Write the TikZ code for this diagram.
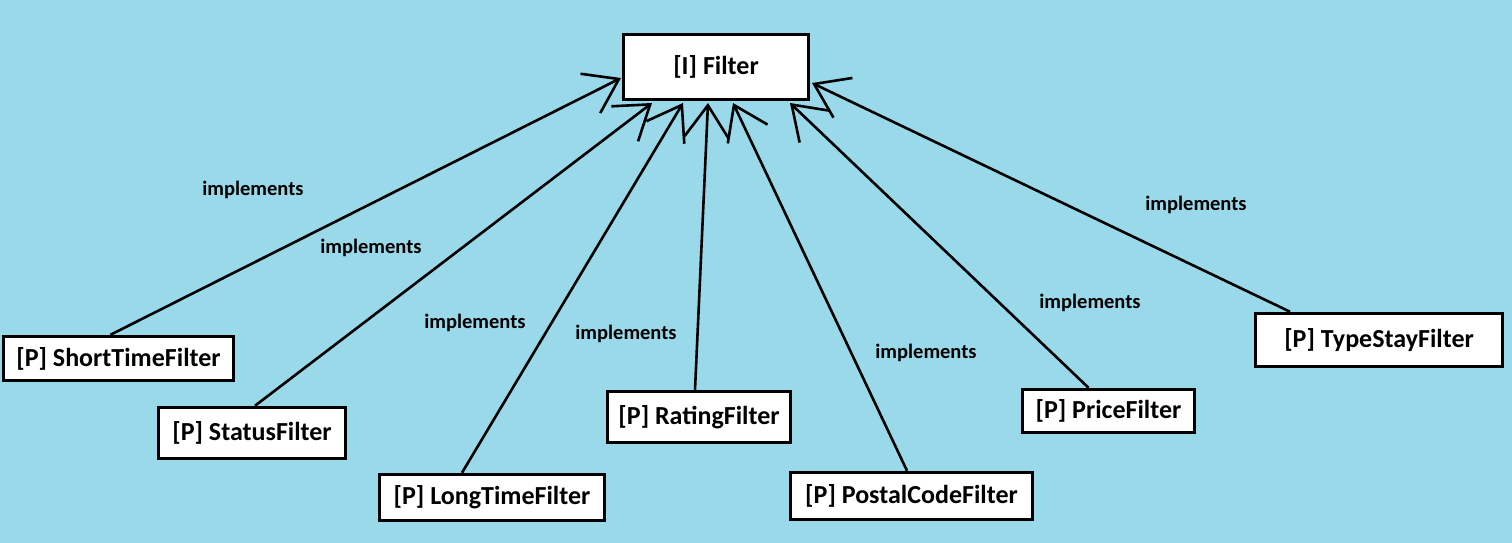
\documentclass[tikz,border=0pt]{standalone}
\usepackage{fontspec}
\setmainfont{Carlito}
\usetikzlibrary{arrows.meta}
\definecolor{bg}{RGB}{153,217,234}
\begin{document}
\begin{tikzpicture}[x=1pt,y=-1pt,
  box/.style={draw=black, fill=white, line width=3.5pt, inner sep=0pt,
    font=\bfseries\fontsize{26}{30}\selectfont},
  impl/.style={font=\bfseries\fontsize{20.5}{24}\selectfont, inner sep=0pt},
  link/.style={line width=2.6pt, -{Straight Barb[length=32pt,width=44pt]}}]
\fill[bg] (0,0) rectangle (1512,543);
\useasboundingbox (0,0) rectangle (1512,543);
% boxes
\node[box, minimum width=185pt, minimum height=65pt] (filter) at (716,67) {[I] Filter};
\node[box, minimum width=230pt, minimum height=44pt] (short) at (118.5,358.5) {[P] ShortTimeFilter};
\node[box, minimum width=187pt, minimum height=51pt] (status) at (252,433) {[P] StatusFilter};
\node[box, minimum width=225pt, minimum height=46pt] (long) at (492,497.5) {[P] LongTimeFilter};
\node[box, minimum width=183pt, minimum height=51pt] (rating) at (699,417) {[P] RatingFilter};
\node[box, minimum width=242pt, minimum height=47pt] (postal) at (911.5,496) {[P] PostalCodeFilter};
\node[box, minimum width=172pt, minimum height=43pt] (price) at (1108.5,411) {[P] PriceFilter};
\node[box, minimum width=247pt, minimum height=53pt] (type) at (1379,340) {[P] TypeStayFilter};
% arrow tips on the Filter box
\coordinate (t1) at (621,78);
\coordinate (t2) at (652,103);
\coordinate (t3) at (683,103);
\coordinate (t4) at (708,103);
\coordinate (t5) at (733,103);
\coordinate (t6) at (790,103);
\coordinate (t7) at (812,83);
% connectors
\draw[link] ([xshift=-8pt]short.north) -- (t1);
\draw[link] ([xshift=3pt]status.north) -- (t2);
\draw[link] ([xshift=-30pt]long.north) -- (t3);
\draw[link] ([xshift=-4pt]rating.north) -- (t4);
\draw[link] ([xshift=-4.5pt]postal.north) -- (t5);
\draw[link] ([xshift=-20pt]price.north) -- (t6);
\draw[link] ([xshift=-89pt]type.north) -- (t7);
% labels
\node[impl] (l1) at (253,190) {implements};
\node[impl] (l2) at (371,248) {implements};
\node[impl] (l3) at (475,323) {implements};
\node[impl] (l4) at (626,334) {implements};
\node[impl] (l5) at (926,353) {implements};
\node[impl] (l6) at (1090,303) {implements};
\node[impl] (l7) at (1196,205) {implements};
\end{tikzpicture}
\end{document}
